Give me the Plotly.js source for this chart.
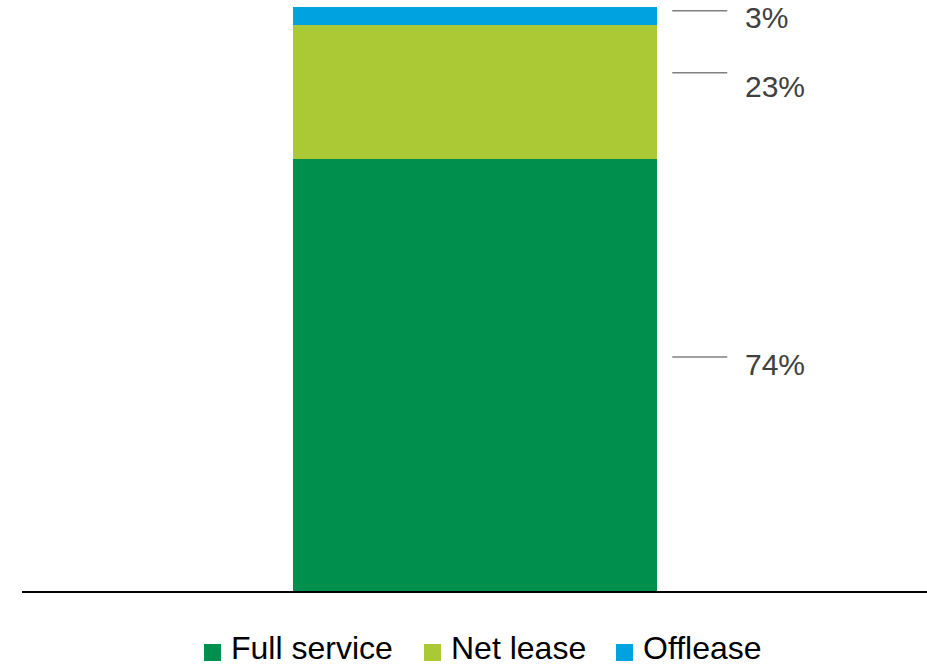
<!DOCTYPE html>
<html>
<head>
<meta charset="utf-8">
<script src="https://cdn.plot.ly/plotly-3.0.1.min.js"></script>
<style>html,body{margin:0;padding:0;background:#fff;}#chart{width:927px;height:667px;}</style>
</head>
<body>
<div id="chart"></div>
<script>
var categories = ["Full service", "Net lease", "Offlease"];
var shares = [74, 23, 3];
var colors = ["#008f4c", "#aac934", "#00a3df"];
var labelText = ["74%", "23%", "3%"];

var barX = [0];
var traces = categories.map(function (name, i) {
  return {
    type: "bar",
    name: name,
    x: barX,
    y: [shares[i]],
    width: 1,
    marker: { color: colors[i], line: { width: 0 } },
    hoverinfo: "skip",
    showlegend: false
  };
});

// layout geometry (pixels)
var W = 927, H = 667;
var M = { l: 22, r: 0, t: 7, b: 76 };
var plotW = W - M.l - M.r, plotH = H - M.t - M.b;
function px2paperX(px) { return (px - M.l) / plotW; }
function px2paperY(py) { return (H - M.b - py) / plotH; }

// cumulative midpoints for labels
var mids = [];
var acc = 0;
shares.forEach(function (v) { mids.push(acc + v / 2); acc += v; });

// per-label vertical nudges (pixels): text and leader line
var textShift = [10, 5, -2];
var lineShift = [18, 19, 5];

var annotations = labelText.map(function (t, i) {
  return {
    x: 0.5, xref: "x", y: mids[i], yref: "y",
    text: t, showarrow: false,
    xanchor: "left", yanchor: "middle",
    xshift: 86, yshift: textShift[i],
    font: { family: "Liberation Sans, Arial, sans-serif", size: 30, color: "#404040" }
  };
});

var shapes = mids.map(function (m, i) {
  return {
    type: "line",
    xref: "x", xsizemode: "pixel", xanchor: 0.5, x0: 15, x1: 70,
    yref: "y", ysizemode: "pixel", yanchor: m, y0: lineShift[i], y1: lineShift[i],
    line: { color: "#808080", width: 1.5 }
  };
});

// custom legend (square swatch + label)
var legendSwatchX = [204, 424, 616];
var legendSwatchSize = 17;
var legendSwatchBottom = 661;
var legendTextGap = 9;
var legendTextBottom = 667;
categories.forEach(function (name, i) {
  shapes.push({
    type: "rect", xref: "paper", yref: "paper",
    x0: px2paperX(legendSwatchX[i]), x1: px2paperX(legendSwatchX[i] + legendSwatchSize),
    y0: px2paperY(legendSwatchBottom), y1: px2paperY(legendSwatchBottom - legendSwatchSize),
    fillcolor: colors[i], line: { width: 0 }
  });
  annotations.push({
    xref: "paper", yref: "paper",
    x: px2paperX(legendSwatchX[i] + legendSwatchSize + legendTextGap),
    y: px2paperY(legendTextBottom),
    xanchor: "left", yanchor: "bottom", showarrow: false,
    borderpad: 0,
    text: name,
    font: { family: "Liberation Sans, Arial, sans-serif", size: 32, color: "#000000" }
  });
});

var layout = {
  width: W, height: H,
  margin: { l: M.l, r: M.r, t: M.t, b: M.b, pad: 0, autoexpand: false },
  paper_bgcolor: "#ffffff", plot_bgcolor: "#ffffff",
  barmode: "stack",
  showlegend: false,
  xaxis: {
    range: [-1.245, 1.241],
    showgrid: false, zeroline: false, showticklabels: false, ticks: "",
    showline: true, linecolor: "#000000", linewidth: 2, fixedrange: true
  },
  yaxis: {
    range: [0, 100],
    showgrid: false, zeroline: false, showticklabels: false, ticks: "",
    showline: false, fixedrange: true
  },
  annotations: annotations,
  shapes: shapes
};

Plotly.newPlot("chart", traces, layout, { displayModeBar: false, staticPlot: true });
</script>
</body>
</html>
